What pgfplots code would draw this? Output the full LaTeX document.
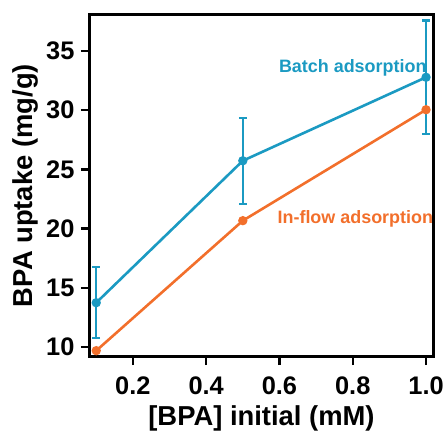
\documentclass[border=0pt]{standalone}
\usepackage{pgfplots}
\pgfplotsset{compat=1.18}
\usepackage{fontspec}
\setmainfont{Liberation Sans}
\definecolor{cblue}{HTML}{1B9AC2}
\definecolor{corange}{HTML}{F26F2B}
\begin{document}
\begin{tikzpicture}[x=1bp,y=1bp]
\begin{axis}[
  at={(0,0)}, anchor=south west,
  scale only axis, width=343bp, height=341bp,
  xmin=0.083, xmax=1.019, ymin=9.24, ymax=38.04,
  xtick={0.2,0.4,0.6,0.8,1.0},
  ytick={10,15,20,25,30,35},
  xticklabels={0.2,0.4,0.6,0.8,1.0},
  tick align=outside, tick pos=left,
  major tick length=9bp,
  every tick/.style={black, line width=2.4bp},
  axis line style={line width=3bp},
  /pgf/number format/assume math mode=true,
  ticklabel style={font=\fontsize{25.5}{25.5}\selectfont\bfseries},
  xticklabel style={yshift=-8bp},
  yticklabel style={xshift=-3bp},
  xlabel={[BPA] initial (mM)},
  ylabel={BPA uptake (mg/g)},
  label style={font=\fontsize{27.5}{27.5}\selectfont\bfseries},
  xlabel style={yshift=-4bp},
  ylabel style={yshift=1bp},
  clip=false,
]
\addplot[corange, line width=2.6bp, mark=*, mark size=3.3bp] coordinates {
  (0.1,9.69) (0.5,20.67) (1.0,30.04)};
\addplot[cblue, line width=2.6bp, mark=*, mark size=3.3bp,
  error bars/.cd, y dir=both, y explicit,
  error bar style={line width=2.4bp},
  error mark options={rotate=90, mark size=4bp, line width=2.4bp}] coordinates {
  (0.1,13.74) +- (0,3.0)
  (0.5,25.73) +- (0,3.63)
  (1.0,32.78) +- (0,4.8)};
\node[cblue, font=\fontsize{18}{18}\selectfont\bfseries] at (axis cs:0.80,33.55) {Batch adsorption};
\node[corange, font=\fontsize{18}{18}\selectfont\bfseries] at (axis cs:0.807,20.8) {In-flow adsorption};
\end{axis}
\pgfresetboundingbox
\path[use as bounding box] (-90bp,-78bp) rectangle (356bp,356bp);
\end{tikzpicture}
\end{document}
